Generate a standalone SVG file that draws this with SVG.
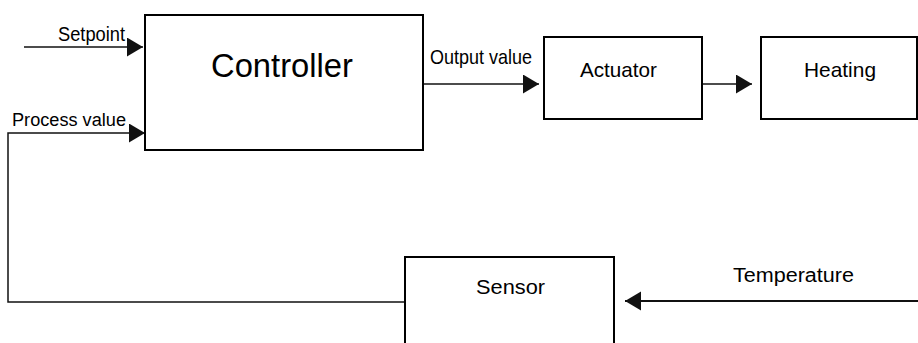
<svg xmlns="http://www.w3.org/2000/svg" width="918" height="343" viewBox="0 0 918 343">
<style>
.box{fill:#fff;stroke:#000;stroke-width:2}
.ln{fill:none;stroke:#111;stroke-width:1.5}
text{font-family:"Liberation Sans",Arial,sans-serif;fill:#000}
.lbl{font-size:18px}
.nd{font-size:21px}
</style>
<defs>
<marker id="ah" markerUnits="userSpaceOnUse" markerWidth="17" markerHeight="20" refX="16" refY="9.5" orient="auto">
<polygon points="0,0 16,9.5 0,19" fill="#111"/>
</marker>
</defs>
<g id="connectors">
<line class="ln" x1="24" y1="47" x2="143" y2="47" marker-end="url(#ah)"/>
<polyline class="ln" points="405,302 8,302 8,133 145,133" marker-end="url(#ah)"/>
<line class="ln" x1="423" y1="84" x2="539" y2="84" marker-end="url(#ah)"/>
<line class="ln" x1="702" y1="84" x2="752" y2="84" marker-end="url(#ah)"/>
<line class="ln" style="stroke-width:2" x1="918" y1="301" x2="625" y2="301" marker-end="url(#ah)"/>
<text class="lbl" x="58" y="41" style="font-size:20px" textLength="67" lengthAdjust="spacingAndGlyphs">Setpoint</text>
<text class="lbl" x="12" y="126" textLength="114" lengthAdjust="spacingAndGlyphs">Process value</text>
<text class="lbl" x="430" y="64" style="font-size:21px" textLength="102" lengthAdjust="spacingAndGlyphs">Output value</text>
<text class="lbl" x="733" y="282" style="font-size:20px" textLength="121" lengthAdjust="spacingAndGlyphs">Temperature</text>
</g>
<g id="controller">
<rect class="box" x="145" y="15" width="278" height="135"/>
<text x="211" y="77" style="font-size:33px" textLength="142" lengthAdjust="spacingAndGlyphs">Controller</text>
</g>
<g id="actuator">
<rect class="box" x="544" y="37" width="158" height="82"/>
<text class="nd" x="580" y="77" textLength="77" lengthAdjust="spacingAndGlyphs">Actuator</text>
</g>
<g id="heating">
<rect class="box" x="761" y="37" width="156" height="82"/>
<text class="nd" x="804" y="77" textLength="72" lengthAdjust="spacingAndGlyphs">Heating</text>
</g>
<g id="sensor">
<rect class="box" x="405" y="257" width="209" height="100"/>
<text class="nd" x="476" y="294" textLength="69" lengthAdjust="spacingAndGlyphs">Sensor</text>
</g>
</svg>
